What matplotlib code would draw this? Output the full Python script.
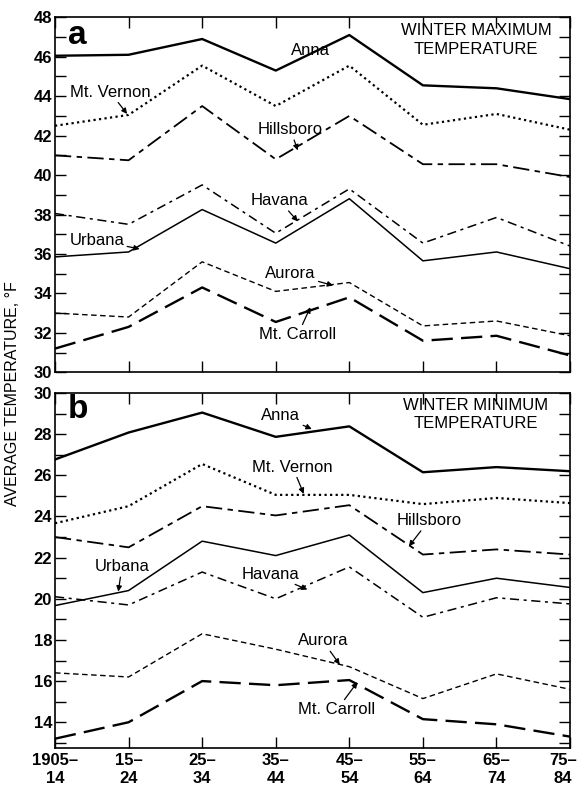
import matplotlib
matplotlib.use('Agg')
import matplotlib.pyplot as plt
import matplotlib.transforms as mtransforms
from matplotlib.ticker import MultipleLocator

plt.rcParams['font.family'] = ['Liberation Sans', 'DejaVu Sans']

periods = ['1905\u2013\n14', '15\u2013\n24', '25\u2013\n34', '35\u2013\n44',
           '45\u2013\n54', '55\u2013\n64', '65\u2013\n74', '75\u2013\n84']

# winter maximum temperature (panel a)
max_anna = [46.05, 46.1, 46.9, 45.3, 47.1, 44.55, 44.4, 43.85]
max_vernon = [42.5, 43.05, 45.55, 43.5, 45.55, 42.55, 43.1, 42.3]
max_hillsboro = [41.0, 40.75, 43.5, 40.8, 43.0, 40.55, 40.55, 39.9]
max_havana = [38.05, 37.5, 39.5, 37.05, 39.3, 36.55, 37.85, 36.4]
max_urbana = [35.85, 36.1, 38.25, 36.55, 38.8, 35.65, 36.1, 35.25]
max_aurora = [33.0, 32.8, 35.6, 34.1, 34.55, 32.35, 32.6, 31.85]
max_carroll = [31.2, 32.3, 34.3, 32.55, 33.8, 31.6, 31.85, 30.85]

# winter minimum temperature (panel b)
min_anna = [26.77, 28.08, 29.05, 27.87, 28.38, 26.15, 26.4, 26.2]
min_vernon = [23.67, 24.5, 26.55, 25.05, 25.05, 24.6, 24.9, 24.65]
min_hillsboro = [23.0, 22.5, 24.5, 24.05, 24.55, 22.15, 22.4, 22.15]
min_urbana = [19.67, 20.4, 22.8, 22.1, 23.1, 20.3, 21.0, 20.55]
min_havana = [20.1, 19.7, 21.3, 20.0, 21.55, 19.1, 20.05, 19.75]
min_aurora = [16.4, 16.2, 18.3, 17.55, 16.7, 15.15, 16.35, 15.6]
min_carroll = [13.2, 14.0, 16.0, 15.8, 16.05, 14.15, 13.9, 13.3]

x = list(range(len(periods)))

styles = {
    'anna': dict(ls='-', lw=1.7),
    'vernon': dict(ls=(0, (1, 1.5)), lw=1.6),
    'hillsboro': dict(ls=(0, (9, 3, 3, 3)), lw=1.3),
    'havana': dict(ls=(0, (6, 3, 2, 3)), lw=1.1),
    'urbana': dict(ls='-', lw=1.1),
    'aurora': dict(ls=(0, (4, 2.5)), lw=1.0),
    'carroll': dict(ls=(0, (9, 3.5)), lw=1.7),
}

fig = plt.figure(figsize=(5.82, 7.87), dpi=100)
ax1 = fig.add_axes([0.0945, 0.527, 0.885, 0.451])
ax2 = fig.add_axes([0.0945, 0.0496, 0.885, 0.451])

ax1.plot(x, max_anna, color='k', **styles['anna'])
ax1.plot(x, max_vernon, color='k', **styles['vernon'])
ax1.plot(x, max_hillsboro, color='k', **styles['hillsboro'])
ax1.plot(x, max_havana, color='k', **styles['havana'])
ax1.plot(x, max_urbana, color='k', **styles['urbana'])
ax1.plot(x, max_aurora, color='k', **styles['aurora'])
ax1.plot(x, max_carroll, color='k', **styles['carroll'])

ax2.plot(x, min_anna, color='k', **styles['anna'])
ax2.plot(x, min_vernon, color='k', **styles['vernon'])
ax2.plot(x, min_hillsboro, color='k', **styles['hillsboro'])
ax2.plot(x, min_urbana, color='k', **styles['urbana'])
ax2.plot(x, min_havana, color='k', **styles['havana'])
ax2.plot(x, min_aurora, color='k', **styles['aurora'])
ax2.plot(x, min_carroll, color='k', **styles['carroll'])

ax1.set_ylim(30, 48)
ax2.set_ylim(12.75, 30)

for ax in (ax1, ax2):
    ax.set_xlim(0, 7)
    ax.set_xticks(x)
    ax.yaxis.set_major_locator(MultipleLocator(2))
    ax.yaxis.set_minor_locator(MultipleLocator(1))
    ax.tick_params(axis='both', which='both', direction='in', top=True, right=True,
                   width=1.0, labelsize=12)
    ax.tick_params(axis='x', length=8)
    ax.tick_params(axis='y', which='major', length=8, pad=2)
    ax.tick_params(axis='y', which='minor', length=8)
    for s in ax.spines.values():
        s.set_linewidth(1.2)
    for lab in ax.get_yticklabels():
        lab.set_fontweight('bold')

ax1.set_xticklabels([])
xlabs = ax2.set_xticklabels(periods, fontsize=12, fontweight='bold', linespacing=1.25)
# nudge the outer labels so they stay inside the figure
shift = mtransforms.ScaledTranslation(-5 / 72, 0, fig.dpi_scale_trans)
xlabs[-1].set_transform(xlabs[-1].get_transform() + shift)

fig.text(0.022, 0.5, 'AVERAGE TEMPERATURE, \u00b0F', rotation=90, va='center',
         ha='center', fontsize=11.5)

arrow = dict(arrowstyle='-|>', color='k', lw=0.9, mutation_scale=8,
             shrinkA=0, shrinkB=0)
fs = 12

# panel a labels
ax1.text(0.18, 47.1, 'a', fontsize=24, fontweight='bold', va='center')
ax1.text(5.72, 46.85, 'WINTER MAXIMUM\nTEMPERATURE', ha='center', va='center',
         fontsize=12, linespacing=1.3)
ax1.text(3.47, 46.3, 'Anna', ha='center', va='center', fontsize=fs)
ax1.annotate('Mt. Vernon', xy=(0.98, 43.1), xytext=(0.75, 44.2),
             ha='center', va='center', fontsize=fs, arrowprops=arrow)
ax1.annotate('Hillsboro', xy=(3.3, 41.25), xytext=(3.2, 42.3),
             ha='center', va='center', fontsize=fs, arrowprops=arrow)
ax1.annotate('Havana', xy=(3.3, 37.65), xytext=(3.05, 38.7),
             ha='center', va='center', fontsize=fs, arrowprops=arrow)
ax1.annotate('Urbana', xy=(1.15, 36.25), xytext=(0.57, 36.7),
             ha='center', va='center', fontsize=fs, arrowprops=arrow)
ax1.annotate('Aurora', xy=(3.78, 34.4), xytext=(3.2, 35.0),
             ha='center', va='center', fontsize=fs, arrowprops=arrow)
ax1.annotate('Mt. Carroll', xy=(3.47, 33.3), xytext=(3.3, 31.9),
             ha='center', va='center', fontsize=fs, arrowprops=arrow)

# panel b labels
ax2.text(0.18, 29.2, 'b', fontsize=24, fontweight='bold', va='center')
ax2.text(5.72, 28.95, 'WINTER MINIMUM\nTEMPERATURE', ha='center', va='center',
         fontsize=12, linespacing=1.3)
ax2.annotate('Anna', xy=(3.49, 28.25), xytext=(3.07, 28.9),
             ha='center', va='center', fontsize=fs, arrowprops=arrow)
ax2.annotate('Mt. Vernon', xy=(3.38, 25.1), xytext=(3.23, 26.4),
             ha='center', va='center', fontsize=fs, arrowprops=arrow)
ax2.annotate('Hillsboro', xy=(4.81, 22.55), xytext=(5.08, 23.8),
             ha='center', va='center', fontsize=fs, arrowprops=arrow)
ax2.annotate('Urbana', xy=(0.86, 20.35), xytext=(0.91, 21.55),
             ha='center', va='center', fontsize=fs, arrowprops=arrow)
ax2.annotate('Havana', xy=(3.43, 20.45), xytext=(2.93, 21.2),
             ha='center', va='center', fontsize=fs, arrowprops=arrow)
ax2.annotate('Aurora', xy=(3.87, 16.8), xytext=(3.64, 17.95),
             ha='center', va='center', fontsize=fs, arrowprops=arrow)
ax2.annotate('Mt. Carroll', xy=(4.11, 15.95), xytext=(3.83, 14.6),
             ha='center', va='center', fontsize=fs, arrowprops=arrow)

fig.savefig('out.png', dpi=100)
